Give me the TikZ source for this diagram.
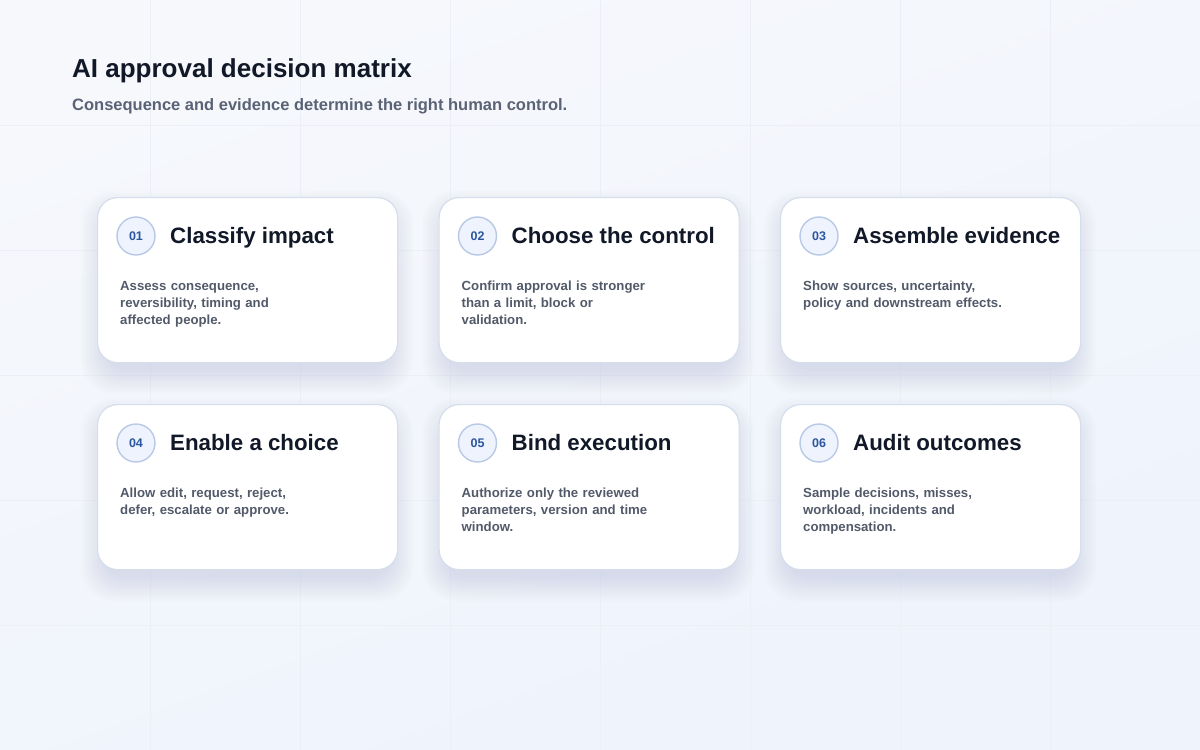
\documentclass[tikz,border=0pt]{standalone}
\usepackage{fontspec}
\setmainfont{Liberation Sans}
\usetikzlibrary{positioning}

\definecolor{bgtop}{HTML}{F6F8FC}
\definecolor{bgbot}{HTML}{EEF3FC}
\definecolor{gridcol}{HTML}{ECF0F6}
\definecolor{cardborder}{HTML}{D5DEEB}
\definecolor{shadowcol}{HTML}{B4BED6}
\definecolor{numfill}{HTML}{EEF3FD}
\definecolor{numborder}{HTML}{B8C9E6}
\definecolor{numtext}{HTML}{2C56A0}
\definecolor{titletext}{HTML}{111827}
\definecolor{subtext}{HTML}{5A6375}
\definecolor{bodytext}{HTML}{525A6A}

\begin{document}
\begin{tikzpicture}[x=1pt, y=-1pt]

\path[use as bounding box] (0,0) rectangle (1200,750);
\shade[top color=bgtop, bottom color=bgbot, shading angle=20] (0,0) rectangle (1200,750);

%% setup styles for the cards

\tikzstyle{card}=[rectangle, rounded corners=20pt, fill=white, draw=cardborder, line width=1.2pt, minimum width=300pt, minimum height=165pt, inner sep=0pt]
\tikzstyle{number}=[circle, fill=numfill, draw=numborder, line width=1.4pt, minimum size=38pt, inner sep=0pt, text=numtext, font=\bfseries\fontsize{12.5}{14}\selectfont]
\tikzstyle{heading}=[anchor=base west, inner sep=0pt, text=titletext, font=\bfseries\fontsize{22.3}{26}\selectfont]
\tikzstyle{blurb}=[anchor=base west, inner sep=0pt, text width=240pt, align=left, text=bodytext, font=\bfseries\fontsize{13.2}{17}\selectfont]
\tikzstyle{shadowpart}=[fill=shadowcol, opacity=0.03]

%% define coordinate grid
\def \xcard {97}
\def \ycard {197}
\def \xsep {341.5}
\def \ysep {207}
\def \wcard {300}
\def \hcard {165}

% faint background grid
\foreach \gx in {150,300,...,1050}
	\draw[gridcol, line width=1pt] (\gx,0) -- (\gx,750);
\foreach \gy in {125,250,...,625}
	\draw[gridcol, line width=1pt] (0,\gy) -- (1200,\gy);

% header
\node[anchor=base west, inner sep=0pt, text=titletext, font=\bfseries\fontsize{26}{30}\selectfont] (head) at (72,77) {AI approval decision matrix};
\node[anchor=base west, inner sep=0pt, text=subtext, font=\bfseries\fontsize{16.5}{20}\selectfont] (subhead) at (72,110) {Consequence and evidence determine the right human control.};

% Draw the cards
\foreach \name/\col/\row/\title/\body in {
1/0/0/{Classify impact}/{Assess consequence,\\reversibility, timing and\\affected people.},
2/1/0/{Choose the control}/{Confirm approval is stronger\\than a limit, block or\\validation.},
3/2/0/{Assemble evidence}/{Show sources, uncertainty,\\policy and downstream effects.},
4/0/1/{Enable a choice}/{Allow edit, request, reject,\\defer, escalate or approve.},
5/1/1/{Bind execution}/{Authorize only the reviewed\\parameters, version and time\\window.},
6/2/1/{Audit outcomes}/{Sample decisions, misses,\\workload, incidents and\\compensation.}}{
\pgfmathsetmacro{\xl}{\xcard+\col*\xsep}
\pgfmathsetmacro{\yt}{\ycard+\row*\ysep}
% soft shadow
\foreach \s in {2,4,...,26}
	\fill[shadowpart, rounded corners=20pt+\s*0.5pt] (\xl+10-\s,\yt+20-\s) rectangle (\xl+\wcard-10+\s,\yt+\hcard+6+\s);
\node[card, anchor=north west] (C-\name) at (\xl,\yt) {};
\node[number] (N-\name) at (\xl+39,\yt+39) {0\name};
\node[heading] (T-\name) at (\xl+73,\yt+46) {\title};
\node[blurb] (B-\name) at (\xl+23,\yt+93) {\body};
}

\end{tikzpicture}
\end{document}
